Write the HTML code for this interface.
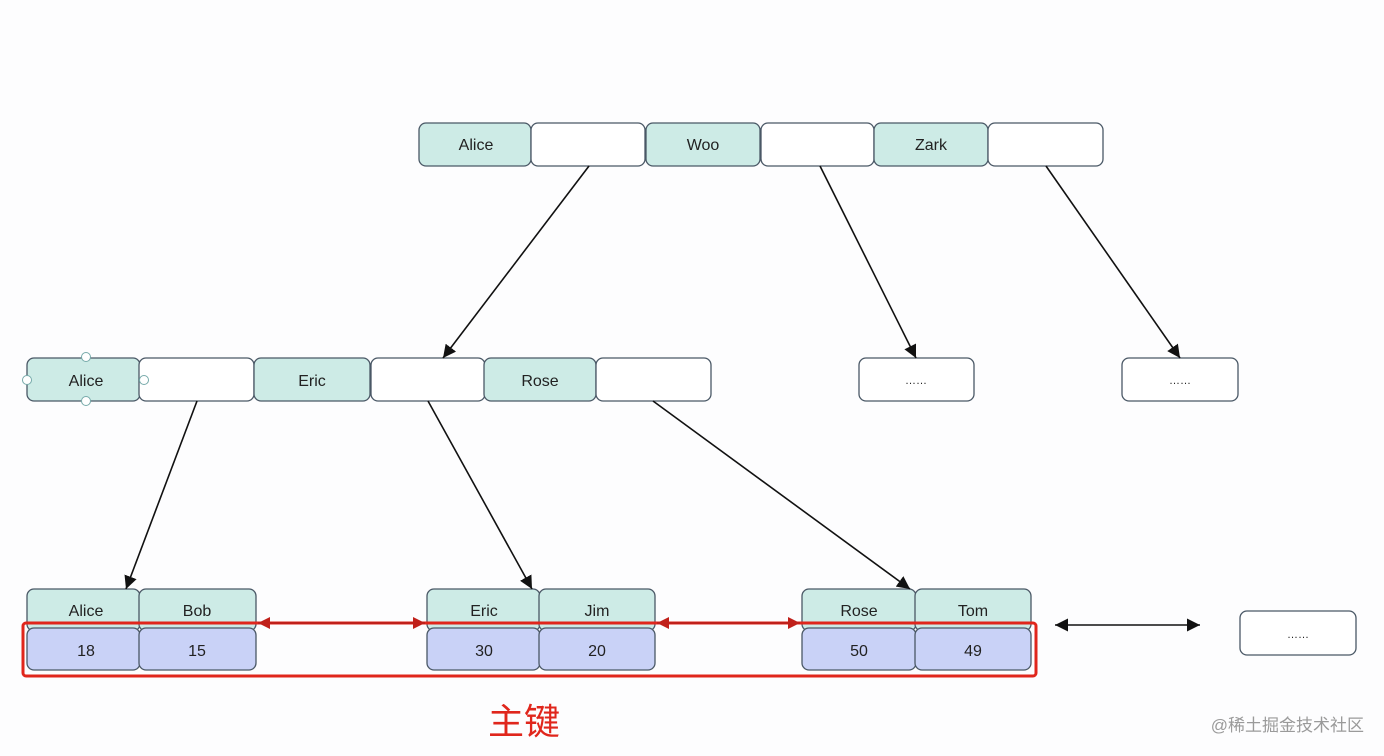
<!DOCTYPE html>
<html><head><meta charset="utf-8"><style>
html,body{margin:0;padding:0;background:#fdfdfe;}
svg{display:block;}
text{font-family:"Liberation Sans","Noto Sans CJK SC",sans-serif;fill:#222;}
</style></head><body>
<svg width="1384" height="756" viewBox="0 0 1384 756" xmlns="http://www.w3.org/2000/svg">
<defs>
<marker id="ah" markerWidth="10" markerHeight="10" refX="9" refY="5" orient="auto" markerUnits="userSpaceOnUse"><path d="M0,0 L10,5 L0,10 Z" fill="#111" transform="scale(1.3) translate(-2,-1.2)"/></marker>
<marker id="a2" viewBox="0 0 10 10" markerWidth="13" markerHeight="13" refX="10" refY="5" orient="auto-start-reverse" markerUnits="userSpaceOnUse"><path d="M0,0 L10,5 L0,10 Z" fill="#111"/></marker>
<marker id="ar" viewBox="0 0 10 10" markerWidth="12" markerHeight="12" refX="10" refY="5" orient="auto-start-reverse" markerUnits="userSpaceOnUse"><path d="M0,0 L10,5 L0,10 Z" fill="#c0201a"/></marker>
</defs>
<g stroke="#4a5866" stroke-width="1.3">
<!-- top row -->
<rect x="419" y="123" width="112" height="43" rx="7" fill="#cdebe6"/>
<rect x="531" y="123" width="114" height="43" rx="7" fill="#fff"/>
<rect x="646" y="123" width="114" height="43" rx="7" fill="#cdebe6"/>
<rect x="761" y="123" width="113" height="43" rx="7" fill="#fff"/>
<rect x="874" y="123" width="114" height="43" rx="7" fill="#cdebe6"/>
<rect x="988" y="123" width="115" height="43" rx="7" fill="#fff"/>
<!-- mid row -->
<rect x="27" y="358" width="113" height="43" rx="7" fill="#cdebe6"/>
<rect x="139" y="358" width="115" height="43" rx="7" fill="#fff"/>
<rect x="254" y="358" width="116" height="43" rx="7" fill="#cdebe6"/>
<rect x="371" y="358" width="114" height="43" rx="7" fill="#fff"/>
<rect x="484" y="358" width="112" height="43" rx="7" fill="#cdebe6"/>
<rect x="596" y="358" width="115" height="43" rx="7" fill="#fff"/>
<rect x="859" y="358" width="115" height="43" rx="7" fill="#fff"/>
<rect x="1122" y="358" width="116" height="43" rx="7" fill="#fff"/>
<!-- leaf keys -->
<rect x="27" y="589" width="113" height="42" rx="7" fill="#cdebe6"/>
<rect x="139" y="589" width="117" height="42" rx="7" fill="#cdebe6"/>
<rect x="427" y="589" width="113" height="42" rx="7" fill="#cdebe6"/>
<rect x="539" y="589" width="116" height="42" rx="7" fill="#cdebe6"/>
<rect x="802" y="589" width="114" height="42" rx="7" fill="#cdebe6"/>
<rect x="915" y="589" width="116" height="42" rx="7" fill="#cdebe6"/>
<!-- leaf values -->
<rect x="27" y="628" width="113" height="42" rx="7" fill="#c9d2f7"/>
<rect x="139" y="628" width="117" height="42" rx="7" fill="#c9d2f7"/>
<rect x="427" y="628" width="113" height="42" rx="7" fill="#c9d2f7"/>
<rect x="539" y="628" width="116" height="42" rx="7" fill="#c9d2f7"/>
<rect x="802" y="628" width="114" height="42" rx="7" fill="#c9d2f7"/>
<rect x="915" y="628" width="116" height="42" rx="7" fill="#c9d2f7"/>
<rect x="1240" y="611" width="116" height="44" rx="7" fill="#fff"/>
</g>
<!-- handles -->
<g fill="#fff" stroke="#7aa" stroke-width="1">
<circle cx="86" cy="357" r="4.5"/><circle cx="86" cy="401" r="4.5"/><circle cx="27" cy="380" r="4.5"/><circle cx="144" cy="380" r="4.5"/>
</g>
<!-- arrows -->
<g stroke="#111" stroke-width="1.6" fill="none">
<line x1="589" y1="166" x2="443" y2="358" marker-end="url(#a2)"/>
<line x1="820" y1="166" x2="916" y2="358" marker-end="url(#a2)"/>
<line x1="1046" y1="166" x2="1180" y2="358" marker-end="url(#a2)"/>
<line x1="197" y1="401" x2="126" y2="589" marker-end="url(#a2)"/>
<line x1="428" y1="401" x2="532" y2="589" marker-end="url(#a2)"/>
<line x1="653" y1="401" x2="910" y2="589" marker-end="url(#a2)"/>
<line x1="1055" y1="625" x2="1200" y2="625" marker-start="url(#a2)" marker-end="url(#a2)"/>
</g>
<!-- red -->
<rect x="23" y="623" width="1013" height="53" rx="3" fill="none" stroke="#e0261c" stroke-width="3"/>
<line x1="258" y1="623" x2="425" y2="623" stroke="#c0201a" stroke-width="2" marker-start="url(#ar)" marker-end="url(#ar)"/>
<line x1="657" y1="623" x2="800" y2="623" stroke="#c0201a" stroke-width="2" marker-start="url(#ar)" marker-end="url(#ar)"/>
<!-- labels -->
<g font-size="16" text-anchor="middle">
<text x="476" y="150">Alice</text><text x="703" y="150">Woo</text><text x="931" y="150">Zark</text>
<text x="86" y="386">Alice</text><text x="312" y="386">Eric</text><text x="540" y="386">Rose</text>
<text x="916" y="384" font-size="11">……</text><text x="1180" y="384" font-size="11">……</text><text x="1298" y="638" font-size="11">……</text>
<text x="86" y="616">Alice</text><text x="197" y="616">Bob</text><text x="484" y="616">Eric</text><text x="597" y="616">Jim</text><text x="859" y="616">Rose</text><text x="973" y="616">Tom</text>
<text x="86" y="656">18</text><text x="197" y="656">15</text><text x="484" y="656">30</text><text x="597" y="656">20</text><text x="859" y="656">50</text><text x="973" y="656">49</text>
</g>
<text x="524" y="734" font-size="36" text-anchor="middle" style="fill:#e0261c">主键</text>
<text x="1364" y="731" font-size="17" text-anchor="end" style="fill:#9a9a9a">@稀土掘金技术社区</text>
</svg>
</body></html>
